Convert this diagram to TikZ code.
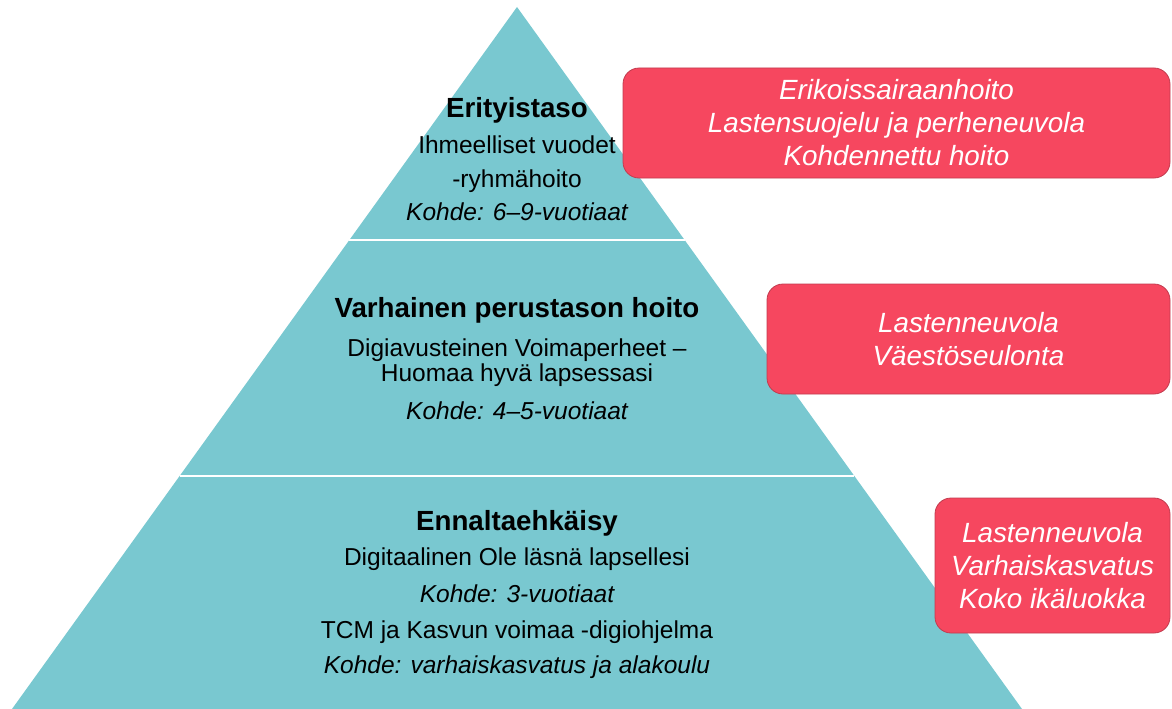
\documentclass[tikz,border=0pt]{standalone}
\usepackage{fontspec}
\setmainfont{Liberation Sans}
\usetikzlibrary{positioning}

\definecolor{pyrteal}{HTML}{79C8D0}
\definecolor{boxred}{HTML}{F6475F}
\definecolor{boxedge}{HTML}{C23B4E}

\begin{document}
\begin{tikzpicture}
  [
    x=1pt, y=-1pt,
    level/.style   = {anchor=base, inner sep=0pt, font=\fontsize{27.7}{30}\selectfont\bfseries},
    txt/.style     = {anchor=base, inner sep=0pt, font=\fontsize{24.5}{28}\selectfont},
    target/.style  = {anchor=base, inner sep=0pt, font=\fontsize{24.5}{28}\selectfont\itshape},
    service/.style = {draw=boxedge, line width=0.8pt, fill=boxred, rounded corners=16pt,
                      text=white, align=center, inner sep=0pt,
                      font=\fontsize{27.8}{33}\selectfont\itshape},
    sep/.style     = {draw=white, line width=2.5pt},
  ]

  \useasboundingbox (0,0) rectangle (1172,709);

  % the pyramid
  \def\cx{517}
  \coordinate (apex) at (\cx,7);
  \coordinate (bl) at (12,709);
  \coordinate (br) at (1022,709);
  \fill[pyrteal] (apex) -- (br) -- (bl) -- cycle;

  \coordinate (s1l) at (349,240);
  \coordinate (s1r) at (685,240);
  \coordinate (s2l) at (180,476);
  \coordinate (s2r) at (854,476);
  \draw[sep] (s1l) -- (s1r);
  \draw[sep] (s2l) -- (s2r);

  % top level
  \node (erit)  [level]  at (\cx,117) {Erityistaso};
  \node (iy1)   [txt]    at (\cx,153) {Ihmeelliset vuodet};
  \node (iy2)   [txt]    at (\cx,187) {-ryhmähoito};
  \node (iyk)   [target] at (\cx,220) {Kohde: 6–9-vuotiaat};

  % middle level
  \node (varh)  [level]  at (\cx,317) {Varhainen perustason hoito};
  \node (vp1)   [txt]    at (\cx,356) {Digiavusteinen Voimaperheet –};
  \node (vp2)   [txt]    at (\cx,381) {Huomaa hyvä lapsessasi};
  \node (vpk)   [target] at (\cx,419) {Kohde: 4–5-vuotiaat};

  % bottom level
  \node (enn)   [level]  at (\cx,530) {Ennaltaehkäisy};
  \node (ole)   [txt]    at (\cx,565) {Digitaalinen Ole läsnä lapsellesi};
  \node (olek)  [target] at (\cx,602) {Kohde: 3-vuotiaat};
  \node (tcm)   [txt]    at (\cx,638) {TCM ja Kasvun voimaa -digiohjelma};
  \node (tcmk)  [target] at (\cx,673) {Kohde: varhaiskasvatus ja alakoulu};

  % services
  \node (spec) [service, minimum width=547pt, minimum height=110pt] at (896.5,123)
    {Erikoissairaanhoito\\Lastensuojelu ja perheneuvola\\Kohdennettu hoito};
  \node (neuv) [service, minimum width=403pt, minimum height=110pt] at (968.5,339)
    {Lastenneuvola\\Väestöseulonta};
  \node (koko) [service, minimum width=235pt, minimum height=135pt] at (1052.5,565.5)
    {Lastenneuvola\\Varhaiskasvatus\\Koko ikäluokka};

\end{tikzpicture}
\end{document}
